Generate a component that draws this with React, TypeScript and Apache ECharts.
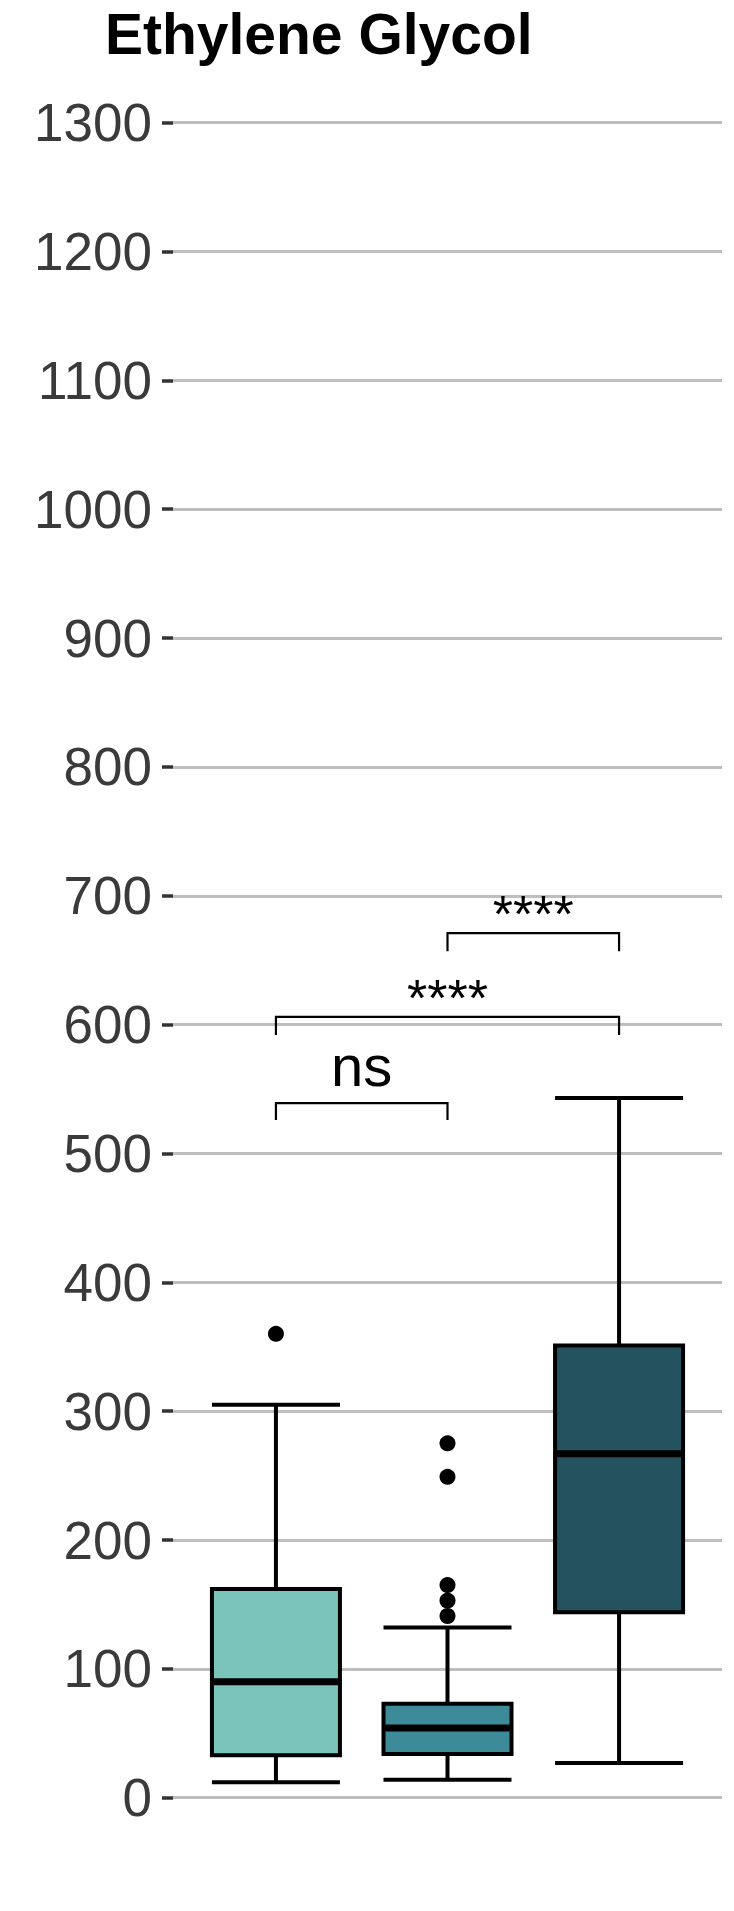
import { useEffect, useRef } from "react";
import * as echarts from "echarts";

// groups in plotting order (x = 1, 2, 3)
const groupX = [1, 2, 3];
const groupColors = ["#7BC4B9", "#3D8B98", "#24525E"];

// [lower whisker, Q1, median, Q3, upper whisker]
const boxStats = [
  [12, 33, 90, 162, 305],
  [14, 34, 54, 73, 132],
  [27, 144, 267, 351, 543]
];

// outliers as [group x, value]
const outliers = [
  [1, 360],
  [2, 275],
  [2, 249],
  [2, 165],
  [2, 153],
  [2, 141]
];

// significance brackets
const bracketFrom = [1, 1, 2];
const bracketTo = [2, 3, 3];
const bracketY = [539, 606, 671];
const bracketTip = [526, 592, 657];
const bracketLabelY = [568, 621, 686];
const bracketLabels = ["ns", "****", "****"];

const yTicks = { min: 0, max: 1300, interval: 100 };

const FONT = "'Liberation Sans', Arial, sans-serif";

export default function App() {
  const chartRef = useRef<HTMLDivElement>(null);

  useEffect(() => {
    if (!chartRef.current) return;
    document.body.style.margin = "0";
    const chart = echarts.init(chartRef.current, null, { renderer: "svg" });

    const boxWidth = 128;

    const option = {
      animation: false,
      graphic: [
        {
          type: "text",
          style: {
            text: "Ethylene Glycol",
            x: 105,
            y: 34,
            fontSize: 57,
            fontWeight: "bold",
            fontFamily: FONT,
            fill: "#000",
            verticalAlign: "middle"
          }
        }
      ],
      grid: { left: 173, right: 12, top: 122.7, bottom: 113.3 },
      xAxis: {
        type: "value",
        min: 0.4,
        max: 3.6,
        show: false
      },
      yAxis: {
        type: "value",
        min: yTicks.min,
        max: yTicks.max,
        interval: yTicks.interval,
        axisLine: { show: false },
        axisTick: { show: true, length: 11, lineStyle: { color: "#333", width: 3.5 } },
        axisLabel: {
          fontSize: 53,
          color: "#3A3A3A",
          fontFamily: FONT,
          margin: 21,
          formatter: (v: number) => String(v)
        },
        splitLine: { show: true, lineStyle: { color: "#BEBEBE", width: 3 } }
      },
      series: [
        {
          type: "boxplot",
          boxWidth: [boxWidth, boxWidth],
          z: 2,
          itemStyle: { borderColor: "#000", borderWidth: 4 },
          emphasis: { disabled: true },
          data: boxStats.map((s, i) => ({
            value: [groupX[i], ...s],
            itemStyle: { color: groupColors[i], borderColor: "#000", borderWidth: 4 }
          }))
        },
        {
          type: "custom",
          z: 3,
          data: boxStats.map((s, i) => [groupX[i], s[2]]),
          renderItem: (_params: any, api: any) => {
            const c = api.coord([api.value(0), api.value(1)]);
            return {
              type: "line",
              shape: { x1: c[0] - boxWidth / 2 + 2, y1: c[1], x2: c[0] + boxWidth / 2 - 2, y2: c[1] },
              style: { stroke: "#000", lineWidth: 7 }
            };
          }
        },
        {
          type: "scatter",
          z: 3,
          symbolSize: 16,
          itemStyle: { color: "#000", opacity: 1 },
          emphasis: { disabled: true },
          data: outliers
        },
        {
          type: "custom",
          z: 4,
          data: bracketFrom.map((f, i) => [f, bracketTo[i], bracketY[i], bracketTip[i], bracketLabelY[i], i]),
          renderItem: (_params: any, api: any) => {
            const x1 = api.value(0);
            const x2 = api.value(1);
            const idx = api.value(5);
            const pA = api.coord([x1, api.value(3)]);
            const pB = api.coord([x1, api.value(2)]);
            const pC = api.coord([x2, api.value(2)]);
            const pD = api.coord([x2, api.value(3)]);
            const lbl = api.coord([(x1 + x2) / 2, api.value(4)]);
            const text = bracketLabels[idx];
            return {
              type: "group",
              children: [
                {
                  type: "polyline",
                  shape: { points: [pA, pB, pC, pD] },
                  style: { stroke: "#000", lineWidth: 2.2, fill: "none" }
                },
                {
                  type: "text",
                  style: {
                    text,
                    x: lbl[0],
                    y: lbl[1],
                    align: "center",
                    verticalAlign: "middle",
                    fontSize: text === "ns" ? 58 : 52,
                    fontFamily: FONT,
                    fill: "#000"
                  }
                }
              ]
            };
          }
        }
      ]
    };

    chart.setOption(option as any);
    return () => {
      chart.dispose();
    };
  }, []);

  return (
    <div
      ref={chartRef}
      style={{ position: "absolute", left: 0, top: 0, width: "734px", height: "1911px", background: "#fff" }}
    />
  );
}
